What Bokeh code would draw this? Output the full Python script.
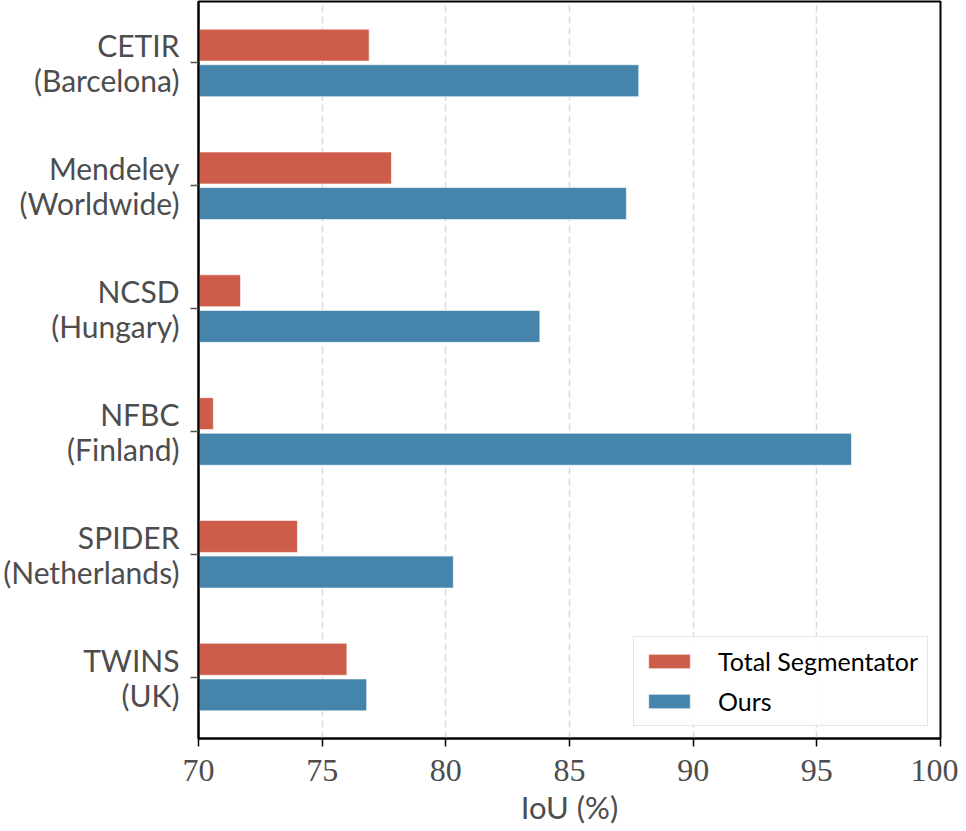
from bokeh.plotting import figure
from bokeh.models import ColumnDataSource, FactorRange, Range1d, FixedTicker, Legend, LegendItem
from bokeh.transform import dodge
from bokeh.embed import file_html
from bokeh.resources import INLINE

datasets = ["CETIR", "Mendeley", "NCSD", "NFBC", "SPIDER", "TWINS"]
regions = ["Barcelona", "Worldwide", "Hungary", "Finland", "Netherlands", "UK"]
total_seg = [76.9, 77.8, 71.7, 70.6, 74.0, 76.0]
ours = [87.8, 87.3, 83.8, 96.4, 80.3, 76.8]
x_ticks = [70, 75, 80, 85, 90, 95, 100]

labels = [f"{d}\n({r})" for d, r in zip(datasets, regions)]
src = ColumnDataSource(dict(label=labels, ts=total_seg, ours=ours,
                            base=[x_ticks[0]] * len(labels)))

SANS = "Lato"
SERIF = "Liberation Serif"
GRAY = "#4d4d4d"

p = figure(width=958, height=828, output_backend="svg", toolbar_location=None,
           y_range=FactorRange(factors=labels[::-1]),
           x_range=Range1d(x_ticks[0], x_ticks[-1]),
           min_border_left=197, min_border_right=18, min_border_top=1, min_border_bottom=88)

red = p.hbar(y=dodge("label", 0.145, range=p.y_range), left="base", right="ts", height=0.26,
             source=src, fill_color="#cd5c4a", line_color="white", line_alpha=0.6, line_width=1)
blue = p.hbar(y=dodge("label", -0.145, range=p.y_range), left="base", right="ours", height=0.26,
              source=src, fill_color="#4585ac", line_color="white", line_alpha=0.6, line_width=1)

p.outline_line_color = "black"
p.outline_line_width = 2
p.outline_line_alpha = 1.0

p.ygrid.grid_line_color = None
p.xgrid.grid_line_color = "#d9d9d9"
p.xgrid.grid_line_width = 1.5
p.xgrid.grid_line_dash = "7 4"

p.xaxis.ticker = FixedTicker(ticks=x_ticks)
p.xaxis.axis_line_color = "black"
p.xaxis.axis_line_width = 2
p.xaxis.major_tick_out = 8
p.xaxis.major_tick_in = 0
p.xaxis.major_tick_line_color = "black"
p.xaxis.major_tick_line_width = 1.5
p.xaxis.minor_tick_line_color = None
p.xaxis.major_label_text_font = SERIF
p.xaxis.major_label_text_font_size = "32px"
p.xaxis.major_label_text_color = GRAY
p.xaxis.major_label_standoff = 13
p.xaxis.axis_label = "IoU (%)"
p.xaxis.axis_label_text_font = SANS
p.xaxis.axis_label_text_font_style = "normal"
p.xaxis.axis_label_text_font_size = "31px"
p.xaxis.axis_label_text_color = GRAY
p.xaxis.axis_label_standoff = 4

p.yaxis.axis_line_color = "black"
p.yaxis.axis_line_width = 2
p.yaxis.major_tick_out = 8
p.yaxis.major_tick_in = 0
p.yaxis.major_tick_line_color = "#555555"
p.yaxis.major_tick_line_width = 1.5
p.yaxis.minor_tick_line_color = None
p.yaxis.major_label_text_font = SANS
p.yaxis.major_label_text_font_size = "30px"
p.yaxis.major_label_text_line_height = 0.97
p.yaxis.major_label_text_color = GRAY
p.yaxis.major_label_standoff = 11

legend = Legend(items=[LegendItem(label="Total Segmentator", renderers=[red]),
                       LegendItem(label="Ours", renderers=[blue])],
                location="bottom_right")
legend.margin = 12
legend.padding = 9
legend.spacing = 10
legend.glyph_width = 52
legend.glyph_height = 18
legend.label_height = 27
legend.label_standoff = 23
legend.label_text_font = SANS
legend.label_text_font_size = "25px"
legend.label_text_color = "black"
legend.border_line_color = "#cccccc"
legend.border_line_width = 1.5
legend.background_fill_alpha = 0.9
p.add_layout(legend)

open("out.html", "w").write(file_html(p, INLINE))
